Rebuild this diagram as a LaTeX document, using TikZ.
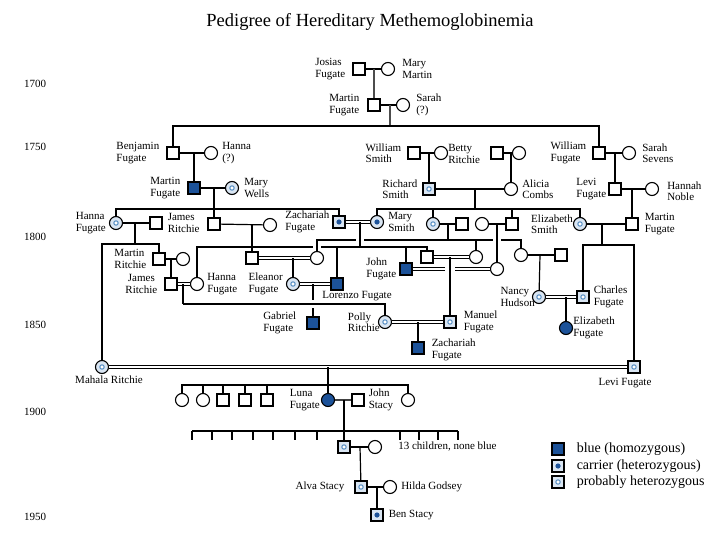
\documentclass[tikz,border=0pt]{standalone}
\usepackage{fontspec}
\setmainfont{Liberation Serif}
\usetikzlibrary{positioning,calc}
\definecolor{BlueClr}{rgb}{0.11,0.32,0.60}
\definecolor{PaleClr}{rgb}{0.85,0.90,0.95}
\definecolor{RingClr}{rgb}{0.33,0.55,0.76}

\tikzset{
  sym/.style={draw=black,line width=1.1pt,inner sep=0pt,fill=white},
  male/.style={sym,rectangle,minimum size=12pt},
  female/.style={sym,circle,minimum size=13pt},
  homo/.style={fill=BlueClr},
  carrier/.style={fill=PaleClr,path picture={\fill[BlueClr] (path picture bounding box.center) circle (2.6pt);}},
  probhet/.style={fill=PaleClr,path picture={\draw[RingClr,line width=1pt,fill=white] (path picture bounding box.center) circle (2.2pt);}},
  lbl/.style={font=\fontsize{11}{11.5}\selectfont,align=left,inner sep=0pt},
  keytxt/.style={font=\fontsize{14}{15}\selectfont,inner sep=0pt},
  ln/.style={line width=1.2pt},
  thk/.style={line width=1.9pt},
  dbl/.style={double,double distance=1.5pt,line width=0.8pt},
}

\begin{document}
\begin{tikzpicture}[x=1pt,y=-1pt]
\useasboundingbox (0,0) rectangle (720,540);

\node[font=\fontsize{18.5}{20}\selectfont] (title) at (370,22) {Pedigree of Hereditary Methemoglobinemia};
\foreach \yr/\yy in {1700/84,1750/147,1800/237,1850/325,1900/412,1950/517}
  \node[lbl,anchor=west] (yr\yr) at (24,\yy) {\yr};

% people
\node[male] (josias) at (359,69) {};
\node[female] (marym) at (388,69) {};
\node[male] (martinA) at (374,105) {};
\node[female] (sarah) at (403,105) {};

\node[male] (benj) at (173,153) {};
\node[female] (hannaQ) at (211,153) {};
\node[male] (wsmith) at (414,153) {};
\node[female] (betty) at (441,153) {};
\node[male] (sqA) at (497,153) {};
\node[female] (ciA) at (519,153) {};
\node[male] (wfug) at (599,153) {};
\node[female] (sevens) at (629,153) {};

\node[male,homo] (martinB) at (194,188) {};
\node[female,probhet] (wells) at (232,188) {};
\node[male,probhet] (richard) at (429,189) {};
\node[female] (alicia) at (511,189) {};
\node[male] (levi1) at (615,189) {};
\node[female] (noble) at (652,189) {};

\node[female,probhet] (hannaF) at (116,223) {};
\node[male] (jritchie) at (156,223) {};
\node[male] (sqB) at (214,224) {};
\node[female] (ciB) at (270,225) {};
\node[male,carrier] (zach) at (339,222) {};
\node[female,carrier] (marys) at (377,222) {};
\node[female,probhet] (ciC) at (433,224) {};
\node[male] (sqC) at (462,224) {};
\node[female] (ciD) at (482,224) {};
\node[male] (sqD) at (512,224) {};
\node[female,probhet] (elizS) at (580,224) {};
\node[male] (martinC) at (632,224) {};

\node[male] (martinR) at (159,259) {};
\node[female] (ciE) at (183,259) {};
\node[male] (jamesR) at (171,284) {};
\node[female] (hannaL) at (197,284) {};
\node[male] (sqE) at (252,258) {};
\node[female] (ciF) at (317,258) {};
\node[female,probhet] (eleanor) at (293,284) {};
\node[male,homo] (lorenzo) at (337,284) {};
\node[male,homo] (john) at (406,269) {};
\node[male] (sqG) at (427,257) {};
\node[female] (ciG) at (476,257) {};
\node[female] (ciH) at (497,269) {};
\node[female] (ciI) at (521,255) {};
\node[male] (sqI) at (561,255) {};
\node[female,probhet] (nancy) at (539,297) {};
\node[male,probhet] (charles) at (583,297) {};
\node[female,homo] (elizF) at (566,328) {};
\node[male,homo] (gabriel) at (313,323) {};
\node[female,probhet] (polly) at (385,322) {};
\node[male,probhet] (manuel) at (450,322) {};
\node[male,homo] (zachL) at (418,348) {};
\node[female,probhet] (mahala) at (102,367) {};
\node[male,probhet] (leviL) at (634,367) {};

\node[female] (kid1) at (182,400) {};
\node[female] (kid2) at (203,400) {};
\node[male] (kid3) at (223,400) {};
\node[male] (kid4) at (245,400) {};
\node[male] (kid5) at (267,400) {};
\node[female,homo] (luna) at (328,400) {};
\node[male] (stacy) at (358,400) {};
\node[female] (kid7) at (408,400) {};

\node[male,probhet] (son) at (344,447) {};
\node[female] (wife) at (375,447) {};
\node[male,probhet] (alva) at (361,487) {};
\node[female] (hilda) at (390,487) {};
\node[male,carrier] (ben) at (377,515) {};

% names
\node[lbl,left=7pt of josias] (josiasL) {Josias\\Fugate};
\node[lbl,right=7pt of marym] (marymL) {Mary\\Martin};
\node[lbl,left=8pt of martinA] (martinAL) {Martin\\Fugate};
\node[lbl,right=6pt of sarah] (sarahL) {Sarah\\(?)};
\node[lbl,left=7pt of benj] (benjL) {Benjamin\\Fugate};
\node[lbl,right=4pt of hannaQ] (hannaQL) {Hanna\\(?)};
\node[lbl,left=7pt of martinB] (martinBL) {Martin\\Fugate};
\node[lbl,right=5pt of wells] (wellsL) {Mary\\Wells};
\node[lbl,left=6pt of wsmith] (wsmithL) {William\\Smith};
\node[lbl,right=0pt of betty,yshift=-1pt] (bettyL) {Betty\\Ritchie};
\node[lbl,left=6pt of wfug] (wfugL) {William\\Fugate};
\node[lbl,right=6pt of sevens] (sevensL) {Sarah\\Sevens};
\node[lbl,left=5pt of richard] (richardL) {Richard\\Smith};
\node[lbl,right=4pt of alicia] (aliciaL) {Alicia\\Combs};
\node[lbl,left=2pt of levi1] (levi1L) {Levi\\Fugate};
\node[lbl,right=8pt of noble,yshift=-2pt] (nobleL) {Hannah\\Noble};
\node[lbl,left=3pt of hannaF] (hannaFL) {Hanna\\Fugate};
\node[lbl,right=5pt of jritchie] (jritchieL) {James\\Ritchie};
\node[lbl,left=3pt of zach] (zachLb) {Zachariah\\Fugate};
\node[lbl,right=4pt of marys] (marysL) {Mary\\Smith};
\node[lbl,left=0pt of elizS] (elizSL) {Elizabeth\\Smith};
\node[lbl,right=6pt of martinC] (martinCL) {Martin\\Fugate};
\node[lbl,left=6pt of martinR] (martinRL) {Martin\\Ritchie};
\node[lbl,left=7pt of jamesR,align=center] (jamesRL) {James\\Ritchie};
\node[lbl,right=3pt of hannaL] (hannaLL) {Hanna\\Fugate};
\node[lbl,left=3pt of eleanor] (eleanorL) {Eleanor\\Fugate};
\node[lbl,below=1pt of lorenzo,xshift=20pt] (lorenzoL) {Lorenzo Fugate};
\node[lbl,left=3pt of john] (johnL) {John\\Fugate};
\node[lbl,left=10pt of gabriel] (gabrielL) {Gabriel\\Fugate};
\node[lbl,left=-2pt of polly] (pollyL) {Polly\\Ritchie};
\node[lbl,right=7pt of manuel] (manuelL) {Manuel\\Fugate};
\node[lbl,right=7pt of zachL,yshift=-2pt] (zachLL) {Zachariah\\Fugate};
\node[lbl,left=-3pt of nancy] (nancyL) {Nancy\\Hudson};
\node[lbl,right=4pt of charles] (charlesL) {Charles\\Fugate};
\node[lbl,right=0pt of elizF] (elizFL) {Elizabeth\\Fugate};
\node[lbl,below=2pt of mahala,xshift=7pt] (mahalaL) {Mahala Ritchie};
\node[lbl,below=4pt of leviL,xshift=-9pt] (leviLL) {Levi Fugate};
\node[lbl,left=1pt of luna] (lunaL) {Luna\\Fugate};
\node[lbl,right=4pt of stacy] (stacyL) {John\\Stacy};
\node[lbl,right=16pt of wife] (wifeL) {13 children, none blue};
\node[lbl,left=10pt of alva] (alvaL) {Alva Stacy};
\node[lbl,right=4pt of hilda] (hildaL) {Hilda Godsey};
\node[lbl,right=5pt of ben] (benL) {Ben Stacy};

% unions and sibships
\coordinate (u1) at (374,69);
\coordinate (u2) at (390,105);  \coordinate (s2) at (390,126);
\coordinate (u3) at (194,153);
\coordinate (u4) at (214,188);  \coordinate (s4) at (214,209);
\coordinate (u5) at (429,153);
\coordinate (u6) at (511,153);
\coordinate (u7) at (615,153);
\coordinate (u8) at (475,189);  \coordinate (s8) at (475,209);
\coordinate (u9) at (632,189);
\coordinate (u10) at (135,223); \coordinate (s10) at (135,244);
\coordinate (u11) at (252,225);
\coordinate (u12) at (360,222); \coordinate (s12) at (360,247);
\coordinate (u13) at (448,224); \coordinate (s13) at (448,240);
\coordinate (u14) at (497,224);
\coordinate (u15) at (171,259);
\coordinate (u16) at (183,284); \coordinate (s16) at (183,304);
\coordinate (u17) at (313,284);
\coordinate (u18) at (293,258);
\coordinate (u19) at (450,257);
\coordinate (u21) at (540,255);
\coordinate (u22) at (566,297);
\coordinate (u23) at (602,224); \coordinate (s23) at (602,245);
\coordinate (u24) at (418,322);
\coordinate (u25) at (328,367); \coordinate (s25) at (328,385);
\coordinate (u26) at (344,400);
\coordinate (u27) at (360,447);
\coordinate (u28) at (377,487);

\draw[ln] (josias) -- (marym);
\draw[thk,black!70] (u1) -- (martinA);
\draw[ln] (martinA) -- (sarah);
\draw[thk,black!70] (u2) -- (s2);
\draw[ln] (benj) |- (s2) -| (wfug);

\draw[ln] (benj) -- (hannaQ);
\draw[thk] (u3) -- (martinB);
\draw[ln] (wsmith) -- (betty);
\draw[ln] (u5) -- (richard);
\draw[ln] (sqA) -- (ciA);
\draw[ln] (u6) -- (alicia);
\draw[ln] (wfug) -- (sevens);
\draw[ln] (u7) -- (levi1);

\draw[thk] (martinB) -- (wells);
\draw[ln] (u4) -- (sqB);
\draw[ln] (hannaF) |- (s4) -| (zach);
\draw[thk] (richard) -- (alicia);
\draw[ln] (u8) -- (s8);
\draw[ln] (marys) |- (s8) -| (elizS);
\draw[ln] (ciC) -- (ciC |- s8);
\draw[ln] (sqD) -- (sqD |- s8);
\draw[thk] (levi1) -- (noble);
\draw[ln] (u9) -- (martinC);

\draw[ln] (hannaF) -- (jritchie);
\draw[ln] (u10) -- (s10);
\draw[ln] (mahala) |- (s10) -| (martinR);
\draw[ln] (sqB) -- (ciB);
\draw[ln] (u11) -- (sqE);
\draw[dbl] (zach) -- (marys);
\draw[ln] (u12) -- (s12);
\draw[ln] (ciC) -- (sqC);
\draw[ln] (u13) -- (s13);
\draw[ln] (ciD) -- (sqD);
\draw[ln] (u14) -- (ciH);
\draw[ln] (elizS) -- (martinC);
\draw[thk] (u23) -- (s23);
\draw[ln] (charles) |- (s23) -| (leviL);

% sibship y=240, broken where lines cross
\coordinate (a1) at (356,240); \coordinate (a2) at (364,240);
\coordinate (a3) at (493,240); \coordinate (a4) at (501,240);
\draw[ln] (ciF) |- (a1);
\draw[ln] (a2) -- (a3);
\draw[ln] (a4) -| (ciI);
\draw[ln] (ciG) -- (ciG |- s13);

% sibship y=247
\coordinate (b3) at (313,247); \coordinate (b4) at (321,247);
\draw[ln] (hannaL) |- (b3);
\draw[ln] (b4) -| (sqG);
\draw[ln] (lorenzo) -- (lorenzo |- s12);
\draw[ln] (john) -- (john |- s12);

\draw[ln] (martinR) -- (ciE);
\draw[ln] (u15) -- (jamesR);
\draw[dbl] (jamesR) -- (hannaL);
\draw[ln] (u16) -- (s16);
\draw[ln] (s16) -| (polly);
\draw[dbl] (sqE) -- (ciF);
\draw[ln] (u18) -- (eleanor);
\draw[dbl] (eleanor) -- (lorenzo);
\coordinate (g1) at (313,300); \coordinate (g2) at (313,308);
\draw[ln] (u17) -- (g1);
\draw[ln] (g2) -- (gabriel);
\draw[dbl] (sqG) -- (ciG);
\draw[ln] (u19) -- (manuel);
\coordinate (j1) at (445,269); \coordinate (j2) at (455,269);
\draw[dbl] (john) -- (j1);
\draw[dbl] (j2) -- (ciH);
\draw[ln] (ciI) -- (sqI);
\draw[ln] (u21) -- (nancy);
\draw[dbl] (nancy) -- (charles);
\draw[ln] (u22) -- (elizF);
\draw[dbl] (polly) -- (manuel);
\draw[ln] (u24) -- (zachL);

\draw[dbl,line width=1.1pt] (mahala) -- (leviL);
\draw[ln] (u25) -- (s25);
\draw[ln] (kid1) |- (s25) -| (kid7);
\foreach \k in {kid2,kid3,kid4,kid5,luna}
  \draw[ln] (\k) -- (\k |- s25);
\draw[thk,black!75] (luna) -- (stacy);
\draw[ln] (u26) -- (son);

\coordinate (t0) at (192,431); \coordinate (t1) at (458,431);
\draw[ln] (t0) -- (t1);
\foreach \x in {192,212,232,253,273,295,317,400,419,438,458}
  \draw[ln] (\x,431) -- ++(0,9);

\draw[ln] (son) -- (wife);
\draw[ln] (u27) -- (alva);
\draw[ln] (alva) -- (hilda);
\draw[ln] (u28) -- (ben);

% key
\node[male,homo] (keyA) at (558,449) {};
\node[male,carrier] (keyB) at (558,466) {};
\node[male,probhet] (keyC) at (558,482) {};
\node[keytxt,right=12pt of keyA] (keyAL) {blue (homozygous)};
\node[keytxt,right=12pt of keyB] (keyBL) {carrier (heterozygous)};
\node[keytxt,right=12pt of keyC] (keyCL) {probably heterozygous};
\end{tikzpicture}
\end{document}
